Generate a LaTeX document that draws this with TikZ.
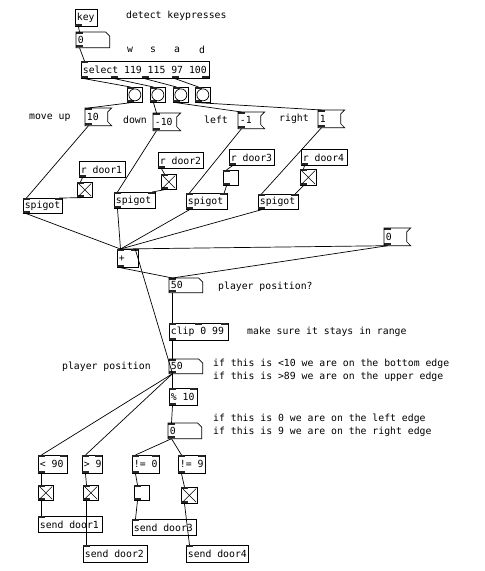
\documentclass[tikz,border=0pt]{standalone}
\usepackage{fontspec}
\newfontfamily\pdfont{DejaVu Sans Mono}
\usetikzlibrary{calc}
\tikzset{
  pdbox/.style={draw, anchor=north west, inner xsep=1.5pt, inner ysep=0pt,
    font=\pdfont\fontsize{9.8pt}{11pt}\selectfont, line width=0.7pt},
  cmt/.style={anchor=west, inner sep=0pt, font=\pdfont\fontsize{9.8pt}{11pt}\selectfont},
  cmtc/.style={anchor=center, inner sep=0pt, font=\pdfont\fontsize{9.8pt}{11pt}\selectfont},
  wire/.style={line width=0.7pt},
  nub/.style={fill=black!85},
  outline/.style={line width=0.7pt}
}
\newcommand\pdnubs[6]{%
  \ifnum#5>0 \foreach \i in {1,...,#5}{\pgfmathsetmacro\xx{#1+(#3-7)*(\i-1)/max(#5-1,1)}\fill[nub] (\xx,#2) rectangle ++(7,2);}\fi
  \ifnum#6>0 \foreach \i in {1,...,#6}{\pgfmathsetmacro\xx{#1+(#3-7)*(\i-1)/max(#6-1,1)}\fill[nub] (\xx,#2+#4) rectangle ++(7,-2);}\fi}
\newcommand\pdo[9][]{%
  \pgfmathsetmacro\tw{#5-3}%
  \node[pdbox,#1,minimum height=#6pt] (#2) at (#3,#4) {\makebox[\tw pt][l]{#7}};%
  \pdnubs{#3}{#4}{#5}{#6}{#8}{#9}}
\newcommand\pdmsg[6]{%
  \pdo[draw=none]{#1}{#2}{#3}{#4}{#5}{#6}{1}{1}%
  \draw[outline] (#1.north west) -- ([xshift=4pt]#1.north east) -- ([yshift=-4pt]#1.north east)
    -- ([yshift=4pt]#1.south east) -- ([xshift=4pt]#1.south east) -- (#1.south west) -- cycle;}
\newcommand\pdnum[6]{%
  \pdo[draw=none]{#1}{#2}{#3}{#4}{#5}{#6}{1}{1}%
  \draw[outline] (#1.north west) -- ([xshift=-4pt]#1.north east) -- ([yshift=-4pt]#1.north east)
    -- (#1.south east) -- (#1.south west) -- cycle;}
\newcommand\pdbng[3]{%
  \pdo{#1}{#2}{#3}{15}{15}{}{1}{1}%
  \draw[outline] (#1) circle (6);}
\newcommand\pdtgl[5]{%
  \pdo{#1}{#2}{#3}{#4}{#4}{}{1}{1}%
  \ifnum#5=1 \draw[line width=0.6pt] ([shift={(1.5pt,-1.5pt)}]#1.north west) -- ([shift={(-1.5pt,1.5pt)}]#1.south east)
    ([shift={(-1.5pt,-1.5pt)}]#1.north east) -- ([shift={(1.5pt,1.5pt)}]#1.south west);\fi}
\newcommand\cn[2]{\draw[wire] ([xshift=3.5pt]#1.south west) -- ([xshift=3.5pt]#2.north west);}
\newcommand\cnr[2]{\draw[wire] ([xshift=3.5pt]#1.south west) -- ([xshift=-3.5pt]#2.north east);}
\begin{document}
\begin{tikzpicture}[x=1pt,y=-1pt]
\fill[white] (0,0) rectangle (485,571);
\useasboundingbox (0,0) rectangle (485,571);

% comments
\node[cmt] (c1) at (126,16) {detect keypresses};
\node[cmtc] (cw) at (130,50) {w};
\node[cmtc] (cs) at (153,50) {s};
\node[cmtc] (ca) at (177,50) {a};
\node[cmtc] (cd) at (202,50) {d};
\node[cmt] (c2) at (29,118) {move up};
\node[cmt] (c3) at (123,120) {down};
\node[cmt] (c4) at (204,120) {left};
\node[cmt] (c5) at (279,119) {right};
\node[cmt] (c6) at (218,287) {player position?};
\node[cmt] (c7) at (247,332) {make sure it stays in range};
\node[cmt] (c8) at (62,367) {player position};
\node[cmt] (c9) at (213,364) {if this is <10 we are on the bottom edge};
\node[cmt] (c10) at (213,377) {if this is >89 we are on the upper edge};
\node[cmt] (c11) at (213,419) {if this is 0 we are on the left edge};
\node[cmt] (c12) at (213,432) {if this is 9 we are on the right edge};

% objects
\pdo{key}{75}{9}{22}{17}{key}{0}{1}
\pdnum{n0t}{76}{32}{33}{15}{0}
\pdo{sel}{81}{61}{128}{17}{select 119 115 97 100}{1}{5}
\pdbng{b1}{127}{87}
\pdbng{b2}{150}{87}
\pdbng{b3}{173}{87}
\pdbng{b4}{195}{87}
\pdmsg{m1}{85}{108}{22}{17}{10}
\pdmsg{m2}{153}{113}{23}{17}{-10}
\pdmsg{m3}{238}{112}{22}{16}{-1}
\pdmsg{m4}{318}{110}{22}{17}{1}
\pdo{r1}{79}{161}{46}{16}{r door1}{0}{1}
\pdtgl{t1}{77}{182}{15}{1}
\pdo{r2}{158}{152}{45}{16}{r door2}{0}{1}
\pdtgl{t2}{161}{174}{15}{1}
\pdo{r3}{229}{149}{45}{16}{r door3}{0}{1}
\pdtgl{t3}{223}{170}{15}{0}
\pdo{r4}{301}{149}{46}{16}{r door4}{0}{1}
\pdtgl{t4}{300}{169}{16}{1}
\pdo{sp1}{23}{198}{39}{15}{spigot}{2}{1}
\pdo{sp2}{114}{192}{41}{16}{spigot}{2}{1}
\pdo{sp3}{186}{193}{41}{16}{spigot}{2}{1}
\pdo{sp4}{258}{194}{40}{15}{spigot}{2}{1}
\pdo{plus}{117}{249}{21}{18}{+}{2}{1}
\pdmsg{m0}{384}{228}{22}{17}{0}
\pdnum{n50a}{169}{278}{33}{14}{50}
\pdo{clip}{169}{323}{59}{17}{clip 0 99}{3}{1}
\pdnum{n50b}{169}{359}{33}{14}{50}
\pdo{mod}{169}{388}{28}{17}{\% 10}{2}{1}
\pdnum{n0b}{168}{423}{33}{15}{0}
\pdo{lt}{38}{455}{29}{18}{< 90}{2}{1}
\pdo{gt}{82}{455}{20}{18}{> 9}{2}{1}
\pdo{ne0}{132}{455}{27}{18}{!= 0}{2}{1}
\pdo{ne9}{178}{455}{27}{18}{!= 9}{2}{1}
\pdtgl{u1}{38}{485}{15}{1}
\pdtgl{u2}{83}{485}{15}{1}
\pdtgl{u3}{134}{485}{15}{0}
\pdtgl{u4}{181}{487}{16}{1}
\pdo{s1}{38}{516}{64}{16}{send door1}{1}{0}
\pdo{s2}{83}{545}{64}{17}{send door2}{1}{0}
\pdo{s3}{132}{519}{64}{16}{send door3}{1}{0}
\pdo{s4}{186}{545}{62}{17}{send door4}{1}{0}

% connections
\cn{key}{n0t}
\cn{n0t}{sel}
\draw[wire] ([xshift=3.5pt]sel.south west) -- ([xshift=3.5pt]b1.north west);
\draw[wire] ([xshift=33.75pt]sel.south west) -- ([xshift=3.5pt]b2.north west);
\draw[wire] ([xshift=64pt]sel.south west) -- ([xshift=3.5pt]b3.north west);
\draw[wire] ([xshift=94.25pt]sel.south west) -- ([xshift=3.5pt]b4.north west);
\cn{b1}{m1}
\cn{b2}{m2}
\cn{b3}{m3}
\cn{b4}{m4}
\cn{m1}{sp1} \cn{r1}{t1} \cnr{t1}{sp1}
\cn{m2}{sp2} \cn{r2}{t2} \cnr{t2}{sp2}
\cn{m3}{sp3} \cn{r3}{t3} \cnr{t3}{sp3}
\cn{m4}{sp4} \cn{r4}{t4} \cnr{t4}{sp4}
\cn{sp1}{plus} \cn{sp2}{plus} \cn{sp3}{plus} \cn{sp4}{plus}
\cn{m0}{plus} \cn{m0}{n50a}
\cn{plus}{n50a}
\cnr{n50b}{plus}
\cn{n50a}{clip} \cn{clip}{n50b} \cn{n50b}{mod} \cn{mod}{n0b}
\cn{n50b}{lt} \cn{n50b}{gt}
\cn{n0b}{ne0} \cn{n0b}{ne9}
\cn{lt}{u1} \cn{u1}{s1}
\cn{gt}{u2} \cn{u2}{s2}
\cn{ne0}{u3} \cn{u3}{s3}
\cn{ne9}{u4} \cn{u4}{s4}
\end{tikzpicture}
\end{document}
